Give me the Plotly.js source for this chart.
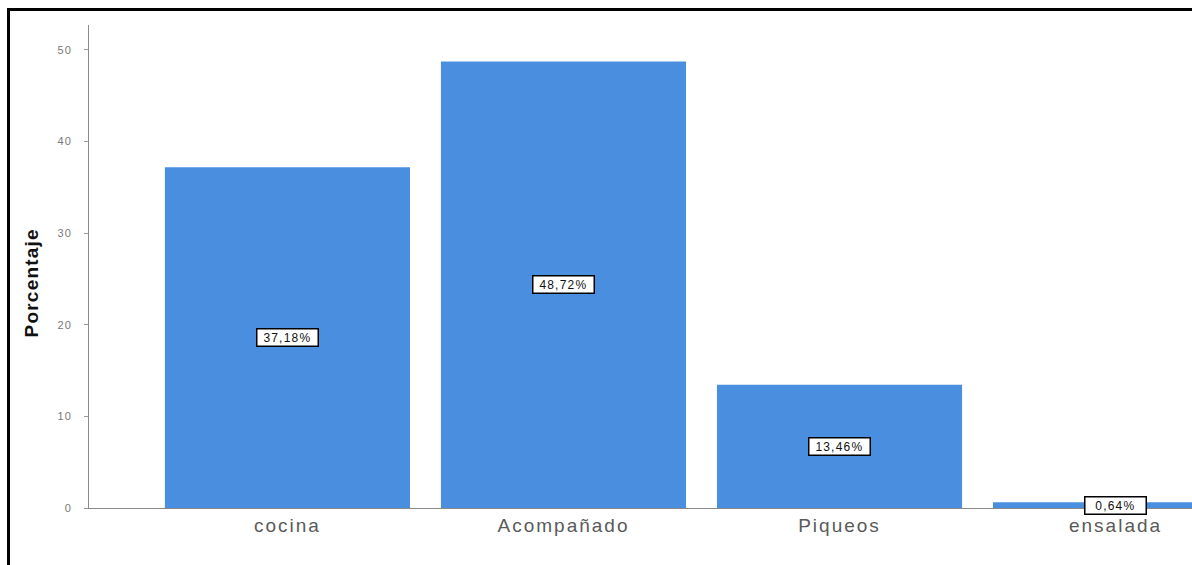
<!DOCTYPE html>
<html>
<head>
<meta charset="utf-8">
<script src="https://cdn.plot.ly/plotly-3.0.1.min.js"></script>
<style>
  html, body { margin: 0; padding: 0; background: #fff; overflow: hidden; }
  #chart { position: absolute; left: 0; top: 0; width: 1192px; height: 565px; }
  #frame {
    position: absolute; left: 7px; top: 8px; width: 1300px; height: 700px;
    border-left: 3px solid #000; border-top: 3px solid #000;
    pointer-events: none;
  }
  /* wide, airy lettering for the axis and value labels */
  #chart .xtick text { letter-spacing: 2px; }
  #chart .ytick text { letter-spacing: 1px; }
  #chart .annotation-text { letter-spacing: 1.2px; }
</style>
</head>
<body>
<div id="chart"></div>
<div id="frame"></div>
<script>
// Porcentaje por categoría
const categories = ['cocina', 'Acompañado', 'Piqueos', 'ensalada'];
const percentages = [37.18, 48.72, 13.46, 0.64];
const yTicks = [0, 10, 20, 30, 40, 50];

const barColor = '#4a8ee0';
const font = 'Liberation Sans, Arial, sans-serif';

const fmt = v => v.toFixed(2).replace('.', ',') + '%';

const trace = {
  type: 'bar',
  x: categories,
  y: percentages,
  width: 0.888,
  marker: { color: barColor, line: { width: 0 } },
  hoverinfo: 'skip'
};

// value boxes placed at the middle of each bar
const valueLabels = categories.map((c, i) => ({
  x: c,
  y: percentages[i] / 2,
  xref: 'x', yref: 'y',
  text: fmt(percentages[i]),
  showarrow: false,
  width: 58,
  height: 14,
  align: 'center',
  valign: 'middle',
  bgcolor: '#ffffff',
  bordercolor: '#000000',
  borderwidth: 1.5,
  borderpad: 1,
  font: { family: font, size: 12, color: '#111' }
}));

// vertical axis caption
const yCaption = {
  xref: 'paper', yref: 'paper',
  x: (31 - 89) / 1103, y: 0.465,
  xanchor: 'center', yanchor: 'middle',
  textangle: -90,
  showarrow: false,
  text: '<b>Porcentaje</b>',
  font: { family: font, size: 19, color: '#111' }
};

const layout = {
  width: 1192,
  height: 565,
  margin: { l: 89, r: 0, t: 25, b: 57 },
  paper_bgcolor: '#ffffff',
  plot_bgcolor: '#ffffff',
  showlegend: false,
  xaxis: {
    type: 'category',
    range: [-0.719, 3.277],
    showline: true,
    linecolor: '#8a8a8a',
    linewidth: 1,
    ticks: '',
    showgrid: false,
    zeroline: false,
    tickfont: { family: font, size: 19, color: '#5a5a5a' }
  },
  yaxis: {
    range: [0, 52.7],
    tickvals: yTicks,
    ticktext: yTicks.map(String),
    showline: true,
    linecolor: '#8a8a8a',
    linewidth: 1,
    ticks: 'outside',
    ticklen: 4,
    tickcolor: '#9a9a9a',
    ticklabelstandoff: 10,
    showgrid: false,
    zeroline: false,
    tickfont: { family: font, size: 11, color: '#777' }
  },
  annotations: valueLabels.concat([yCaption])
};

Plotly.newPlot('chart', [trace], layout, { displayModeBar: false, staticPlot: true });
</script>
</body>
</html>
